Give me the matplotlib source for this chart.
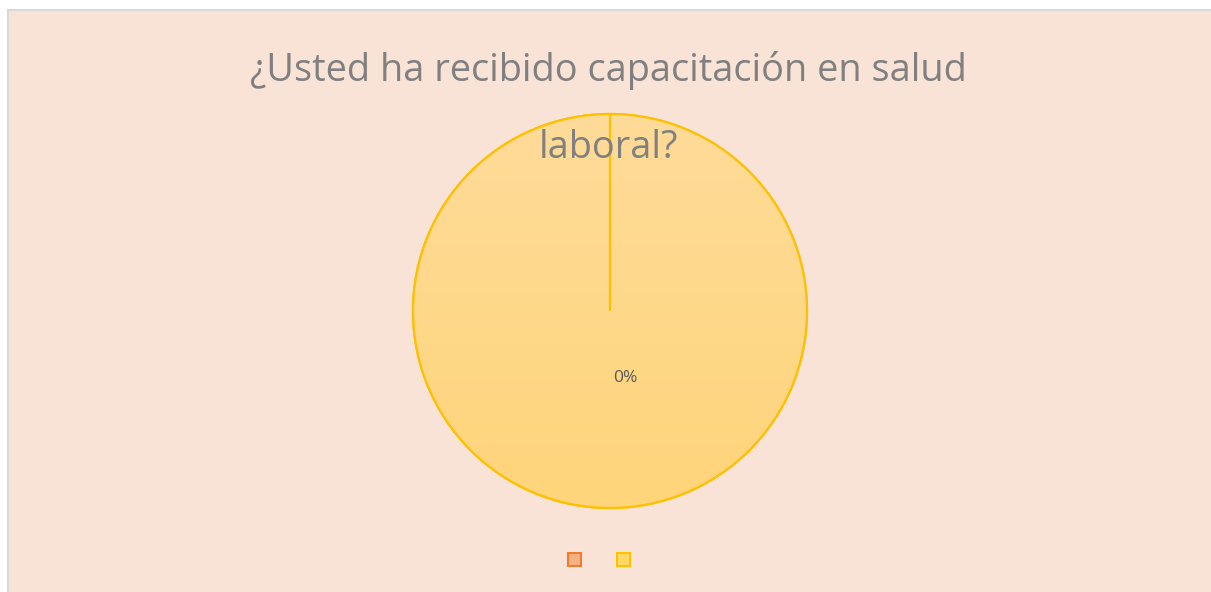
import numpy as np
import matplotlib.pyplot as plt
from matplotlib.patches import Rectangle
from matplotlib.colors import LinearSegmentedColormap

# survey answers (share of respondents)
categories = ['Sí', 'No']
values = [0, 100]
slice_fill = ['#F4B183', '#FFD966']
slice_edge = ['#ED7D31', '#FFC000']
pct_text = '0%'

W, H = 1211, 592
fig = plt.figure(figsize=(W / 100, H / 100), dpi=100)
fig.patch.set_facecolor('white')

# chart area with light border
bg = fig.add_axes([0, 0, 1, 1])
bg.set_xlim(0, W)
bg.set_ylim(H, 0)
bg.axis('off')
bg.add_patch(Rectangle((7.5, 10), W + 20, H, facecolor='#F9E3D6',
                       edgecolor='#D9D9D9', linewidth=1.5))

# title on top of everything (second line overlaps the pie)
fig.text(608 / W, 1 - 70 / H, '¿Usted ha recibido capacitación en salud',
         ha='center', va='center', fontsize=27.3, color='#808080',
         family='Open Sans', zorder=20)
fig.text(608 / W, 1 - 148 / H, 'laboral?',
         ha='center', va='center', fontsize=27.3, color='#808080',
         family='Open Sans', zorder=20)

# pie
cx, cy, r = 610, 311, 197
ax = fig.add_axes([(cx - r) / W, (H - cy - r) / H, 2 * r / W, 2 * r / H])
ax.set_facecolor('none')
wedges, _ = ax.pie(values, colors=slice_fill, startangle=90, counterclock=False,
                   wedgeprops=dict(linewidth=1.6),
                   radius=1)
for w, ec in zip(wedges, slice_edge):
    w.set_edgecolor(ec)

# soft vertical gradient inside the big slice
cmap = LinearSegmentedColormap.from_list('g', ['#FED57A', '#FFDB99'])
grad = np.linspace(0, 1, 256).reshape(-1, 1)
im = ax.imshow(grad, extent=(-1, 1, -1, 1), origin='lower', cmap=cmap,
               aspect='auto', zorder=wedges[1].get_zorder() + 0.1)
im.set_clip_path(wedges[1])
outline = ax.pie(values, colors=['none', 'none'], startangle=90, counterclock=False,
                 wedgeprops=dict(linewidth=1.6), radius=1)[0]
for w in outline:
    w.set_edgecolor('#FFC000')
    w.set_zorder(im.get_zorder() + 0.1)
ax.set_xlim(-1, 1)
ax.set_ylim(-1, 1)
ax.set_aspect('equal')

ax.text(0.076, -0.34, pct_text, ha='center', va='center', fontsize=12.5,
        color='#595959', family='Open Sans', zorder=10)

# legend markers without labels
for x, fc, ec in zip([574, 623], slice_fill, slice_edge):
    bg.add_patch(Rectangle((x - 6.5, 552.5), 13, 13, facecolor=fc,
                           edgecolor=ec, linewidth=1.5))

fig.savefig('out.png', dpi=100)
